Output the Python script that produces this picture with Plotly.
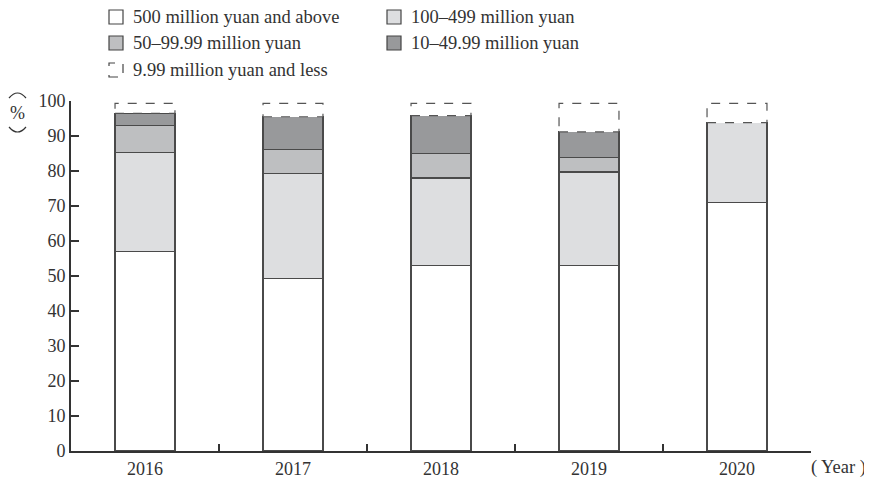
import plotly.graph_objects as go

years = ["2016", "2017", "2018", "2019", "2020"]
above_500 = [56.9, 49.4, 52.9, 53.0, 71.1]
m100_499 = [28.3, 29.8, 25.1, 26.7, 22.7]
m50_99 = [7.7, 7.0, 7.0, 4.1, 0.0]
m10_49 = [3.6, 9.3, 10.8, 7.4, 0.0]
below_10 = [2.8, 3.8, 3.5, 8.1, 5.5]

names = ["500 million yuan and above", "100\u2013499 million yuan",
         "50\u201399.99 million yuan", "10\u201349.99 million yuan",
         "9.99 million yuan and less"]
series = [above_500, m100_499, m50_99, m10_49, below_10]
colors = ["#ffffff", "#dddee0", "#bebfc1", "#98999b", "#ffffff"]

FONT = "Liberation Serif, serif"
INK = "#333333"
BAR_W = 0.405

# page body has an 8px margin, so the figure is shrunk by that amount
OFF = 8
W, H = 872 - OFF, 482 - OFF
# plot area in window pixels
L, R, T, B = 71, 811, 101, 451


def px_x(p):
    return (p - L) / (R - L)


def px_y(p):
    return (B - p) / (B - T)


def label(x, y, text, size=18, **kw):
    return dict(xref="paper", yref="paper", x=px_x(x), y=px_y(y), text=text,
                showarrow=False, xanchor=kw.pop("xanchor", "center"), yanchor="middle",
                font=dict(family=FONT, size=size, color=INK), **kw)


def arch(x0, x1, y_end, y_ctrl):
    xm = (x0 + x1) / 2
    path = (f"M {px_x(x0)},{px_y(y_end)} Q {px_x(xm)},{px_y(y_ctrl)} "
            f"{px_x(x1)},{px_y(y_end)}")
    return dict(type="path", xref="paper", yref="paper", path=path,
                line=dict(color=INK, width=1.2))


fig = go.Figure()
for i, (vals, nm, col) in enumerate(zip(series, names, colors)):
    last = i == len(series) - 1
    fig.add_bar(
        x=years, y=vals, name=nm, width=BAR_W,
        marker=dict(color=col, line=dict(color="#4a4a4a", width=0 if last else 1.2)),
        showlegend=False,
    )

# dashed outline for the top segment
shapes = []
for i in range(len(years)):
    base = above_500[i] + m100_499[i] + m50_99[i] + m10_49[i]
    top = base + below_10[i]
    shapes.append(dict(type="rect", xref="x", yref="y",
                       x0=i - BAR_W / 2, x1=i + BAR_W / 2, y0=base, y1=top,
                       line=dict(color="#555555", width=1.2, dash="dash"),
                       fillcolor="rgba(0,0,0,0)", layer="above"))

# legend (custom, to allow the dashed key)
legend_pos = [(109, 17), (387, 17), (109, 43), (387, 43), (109, 70)]
annotations = []
for (bx, cy), nm, col, k in zip(legend_pos, names, colors, range(5)):
    dashed = k == 4
    shapes.append(dict(type="rect", xref="paper", yref="paper",
                       x0=px_x(bx), x1=px_x(bx + 14), y0=px_y(cy + 7), y1=px_y(cy - 7),
                       fillcolor=col,
                       line=dict(color="#444444", width=1.2, dash="dash" if dashed else "solid")))
    annotations.append(label(bx + 22, cy, nm, size=18.5, xanchor="left"))

# y unit label: % between sideways parentheses; x unit label
shapes += [arch(9, 26, 98, 88), arch(9, 26, 127, 137)]
annotations += [
    label(17, 113, "%"),
    label(809, 467, "( Year )", size=18.5, xanchor="left"),
]

fig.update_layout(
    barmode="stack",
    width=W, height=H,
    margin=dict(l=L - OFF, r=872 - R, t=T - OFF, b=482 - B, autoexpand=False),
    paper_bgcolor="#ffffff", plot_bgcolor="#ffffff",
    font=dict(family=FONT, size=18, color=INK),
    shapes=shapes, annotations=annotations,
)
fig.update_xaxes(
    type="category", range=[-0.5, 4.5], showline=True, linecolor=INK, linewidth=2,
    ticks="inside", tickson="boundaries", ticklen=7, tickwidth=2, tickcolor=INK,
    showgrid=False, zeroline=False, tickfont=dict(family=FONT, size=18, color=INK),
    automargin=False,
)
fig.update_yaxes(
    range=[0, 100], dtick=10, showline=True, linecolor=INK, linewidth=2,
    ticks="inside", ticklen=8, tickwidth=2, tickcolor=INK,
    showgrid=False, zeroline=False, tickfont=dict(family=FONT, size=18, color=INK),
    automargin=False,
)

fig.write_html("out.html")
